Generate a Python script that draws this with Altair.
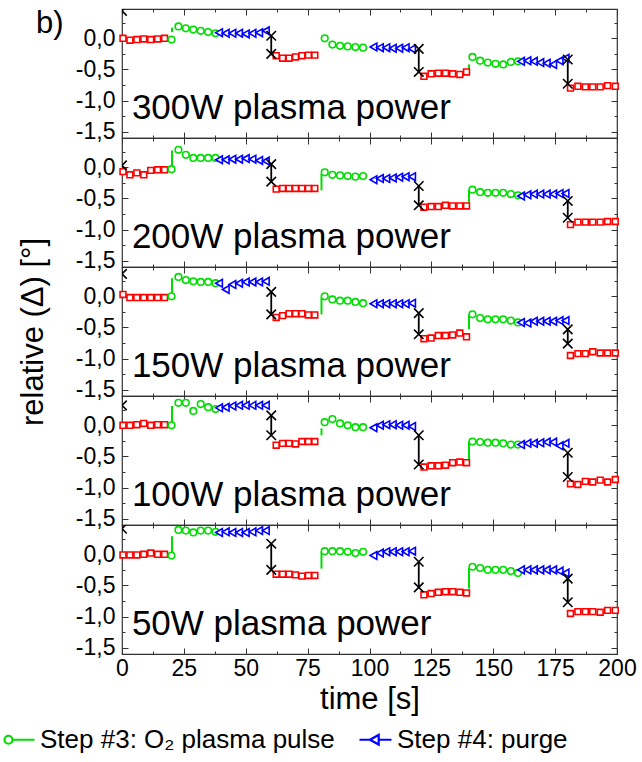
import altair as alt
import pandas as pd

FONT = "Liberation Sans"
RED, GREEN, BLUE, BLACK = "#ff0000", "#00dd00", "#0000ff", "#000000"
TICK = "#333333"

# ---------------- time grids (s) ----------------
t_red = [0.4, 3.2, 6.0, 8.8, 11.6, 14.4, 17.2,
         62.3, 64.9, 67.5, 70.1, 72.7, 75.3, 77.9,
         122.0, 124.9, 127.8, 130.7, 133.6, 136.5, 139.2,
         181.2, 184.2, 187.2, 190.2, 193.2, 196.2, 199.3]
t_green = [20.0, 22.8, 25.8, 28.8, 31.8, 34.8, 37.8,
           81.9, 85.0, 88.1, 91.2, 94.3, 97.4,
           141.6, 144.7, 147.8, 150.9, 154.0, 157.1, 160.0]
t_blue = [39.2, 41.9, 44.6, 47.3, 50.0, 52.7, 55.4, 58.1,
          101.6, 104.2, 106.8, 109.4, 112.0, 114.6, 117.2,
          161.2, 163.8, 166.4, 169.0, 171.6, 174.2, 176.8, 179.2]
t_x = [0.0, 60.3, 119.9, 180.1]
t_jump = [20.2, 80.6, 140.2]

# ---------------- 300 W ----------------
red_300 = [0.0, -0.03, -0.02, -0.01, -0.02, -0.01, 0.0,
           -0.28, -0.32, -0.32, -0.30, -0.28, -0.27, -0.27,
           -0.61, -0.57, -0.56, -0.56, -0.57, -0.58, -0.54,
           -0.80, -0.77, -0.78, -0.78, -0.78, -0.76, -0.77]
green_300 = [-0.02, 0.19, 0.16, 0.14, 0.12, 0.10, 0.08,
             0.0, -0.10, -0.12, -0.13, -0.14, -0.15,
             -0.30, -0.36, -0.39, -0.41, -0.42, -0.38, -0.37]
blue_300 = [0.09, 0.08, 0.08, 0.08, 0.07, 0.08, 0.09, 0.12,
            -0.14, -0.15, -0.15, -0.16, -0.16, -0.15, -0.17,
            -0.37, -0.36, -0.37, -0.39, -0.40, -0.42, -0.36, -0.32]
xhi_300 = [0.44, 0.04, -0.17, -0.34]
xlo_300 = [None, -0.25, -0.54, -0.73]
jlo_300 = [0.10, None, -0.49]
jhi_300 = [0.17, None, -0.42]

# ---------------- 200 W ----------------
red_200 = [-0.07, -0.12, -0.09, -0.12, -0.05, -0.04, -0.04,
           -0.35, -0.34, -0.34, -0.34, -0.34, -0.34, -0.34,
           -0.64, -0.63, -0.63, -0.61, -0.62, -0.62, -0.62,
           -0.92, -0.88, -0.88, -0.88, -0.88, -0.87, -0.87]
green_200 = [-0.03, 0.28, 0.20, 0.15, 0.15, 0.15, 0.15,
             -0.08, -0.12, -0.13, -0.14, -0.15, -0.14,
             -0.36, -0.40, -0.41, -0.41, -0.41, -0.43, -0.45]
blue_200 = [0.12, 0.12, 0.13, 0.13, 0.14, 0.13, 0.11, 0.10,
            -0.20, -0.18, -0.18, -0.17, -0.16, -0.15, -0.15,
            -0.46, -0.44, -0.43, -0.43, -0.43, -0.43, -0.42, -0.42]
xhi_200 = [0.03, 0.05, -0.30, -0.54]
xlo_200 = [None, -0.23, -0.61, -0.81]
jlo_200 = [-0.03, -0.37, -0.61]
jhi_200 = [0.27, -0.10, -0.36]

# ---------------- 150 W ----------------
red_150 = [0.03, -0.02, -0.02, -0.02, -0.02, -0.02, -0.02,
           -0.34, -0.31, -0.28, -0.28, -0.28, -0.30, -0.30,
           -0.68, -0.67, -0.63, -0.63, -0.62, -0.59, -0.65,
           -0.95, -0.92, -0.92, -0.89, -0.91, -0.91, -0.91]
green_150 = [0.0, 0.31, 0.26, 0.24, 0.23, 0.23, 0.21,
             0.0, -0.05, -0.07, -0.07, -0.09, -0.11,
             -0.29, -0.35, -0.37, -0.37, -0.37, -0.39, -0.42]
blue_150 = [0.21, 0.11, 0.19, 0.21, 0.23, 0.23, 0.23, 0.24,
            -0.12, -0.12, -0.12, -0.12, -0.12, -0.12, -0.11,
            -0.42, -0.43, -0.40, -0.40, -0.40, -0.40, -0.39, -0.39]
xhi_150 = [0.36, 0.07, -0.27, -0.53]
xlo_150 = [None, -0.29, -0.61, -0.76]
jlo_150 = [0.0, -0.29, -0.53]
jhi_150 = [0.29, -0.02, -0.29]

# ---------------- 100 W ----------------
red_100 = [0.0, 0.0, 0.01, 0.03, 0.0, 0.01, 0.01,
           -0.32, -0.29, -0.29, -0.30, -0.26, -0.26, -0.26,
           -0.67, -0.65, -0.65, -0.64, -0.60, -0.59, -0.60,
           -0.94, -0.95, -0.90, -0.91, -0.88, -0.91, -0.87]
green_100 = [0.0, 0.36, 0.36, 0.23, 0.34, 0.29, 0.26,
             0.05, 0.10, 0.03, 0.0, -0.03, -0.03,
             -0.26, -0.27, -0.28, -0.28, -0.29, -0.31, -0.31]
blue_100 = [0.28, 0.29, 0.31, 0.32, 0.32, 0.32, 0.32, 0.32,
            -0.04, 0.0, 0.01, 0.01, 0.0, 0.0, -0.02,
            -0.31, -0.29, -0.29, -0.28, -0.27, -0.27, -0.33, -0.29]
xhi_100 = [0.32, 0.16, -0.16, -0.44]
xlo_100 = [None, -0.16, -0.63, -0.83]
jlo_100 = [0.0, -0.16, -0.56]
jhi_100 = [0.31, -0.05, -0.26]

# ---------------- 50 W ----------------
red_50 = [-0.01, -0.01, -0.01, 0.0, 0.02, 0.0, 0.0,
          -0.32, -0.32, -0.32, -0.33, -0.35, -0.34, -0.34,
          -0.65, -0.63, -0.61, -0.60, -0.60, -0.61, -0.62,
          -0.95, -0.92, -0.92, -0.92, -0.93, -0.90, -0.90]
green_50 = [-0.02, 0.39, 0.38, 0.35, 0.38, 0.38, 0.36,
            0.05, 0.05, 0.05, 0.04, 0.02, 0.04,
            -0.20, -0.22, -0.25, -0.25, -0.25, -0.27, -0.30]
blue_50 = [0.35, 0.36, 0.35, 0.35, 0.35, 0.36, 0.38, 0.38,
           -0.02, 0.02, 0.04, 0.04, 0.04, 0.04, 0.05,
           -0.25, -0.25, -0.25, -0.25, -0.25, -0.25, -0.27, -0.30]
xhi_50 = [0.41, 0.17, -0.12, -0.39]
xlo_50 = [None, -0.25, -0.53, -0.77]
jlo_50 = [-0.02, -0.23, -0.55]
jhi_50 = [0.29, 0.04, -0.22]

panel_labels = ["300W plasma power", "200W plasma power", "150W plasma power",
                "100W plasma power", "50W plasma power"]
label_pos = [4.0, -1.29]

legend_labels = ["Step #3: O\u2082 plasma pulse", "Step #4: purge"]

reds = [red_300, red_200, red_150, red_100, red_50]
greens = [green_300, green_200, green_150, green_100, green_50]
blues = [blue_300, blue_200, blue_150, blue_100, blue_50]
xhis = [xhi_300, xhi_200, xhi_150, xhi_100, xhi_50]
xlos = [xlo_300, xlo_200, xlo_150, xlo_100, xlo_50]
jlos = [jlo_300, jlo_200, jlo_150, jlo_100, jlo_50]
jhis = [jhi_300, jhi_200, jhi_150, jhi_100, jhi_50]

X_MAJOR = [0, 25, 50, 75, 100, 125, 150, 175, 200]
X_MINOR = [12.5, 37.5, 62.5, 87.5, 112.5, 137.5, 162.5, 187.5]
Y_MAJOR = [-1.5, -1.0, -0.5, 0.0]
Y_MINOR = [-1.25, -0.75, -0.25, 0.25]

W, H = 495, 129
XDOM = [0, 200]
YDOM = [-1.6, 0.47]

X_PATH = "M-1,-1L1,1M-1,1L1,-1"
LEG_GREEN = "M-0.375,0L1,0M-0.375,0A0.25,0.25,0,1,1,-0.875,0A0.25,0.25,0,1,1,-0.375,0"
LEG_BLUE = "M-1,0L-0.35,0M0.2,0L1,0M-0.35,0L0.2,-0.3L0.2,0.3Z"

YLAB = "replace(replace(format(datum.value, '.1f'), '.', ','), '\u2212', '-')"


def xs(axis):
    return alt.X("t:Q", scale=alt.Scale(domain=XDOM, nice=False, zero=False), axis=axis)


def ys(axis, field="v:Q"):
    return alt.Y(field, scale=alt.Scale(domain=YDOM, nice=False, zero=False), axis=axis)


def make_panel(i):
    last = i == 4
    mid = i == 2
    red_df = pd.DataFrame({"t": t_red, "v": reds[i]})
    green_df = pd.DataFrame({"t": t_green, "v": greens[i]})
    blue_df = pd.DataFrame({"t": t_blue, "v": blues[i]})
    xpts = []
    xrule = []
    for t, hi, lo in zip(t_x, xhis[i], xlos[i]):
        xpts.append({"t": t, "v": hi})
        if lo is not None:
            xpts.append({"t": t, "v": lo})
            xrule.append({"t": t, "v": hi, "v2": lo})
    jump = [{"t": t, "v": lo, "v2": hi} for t, lo, hi in zip(t_jump, jlos[i], jhis[i])
            if lo is not None]

    ax_x_major = alt.Axis(orient="bottom", values=X_MAJOR, tickSize=6, offset=-6,
                          labels=last, labelFontSize=23, labelPadding=3, labelFlush=False,
                          title="time [s]" if last else None, titleFontSize=31,
                          titlePadding=4, titleFontWeight="normal")
    ax_y_major = alt.Axis(orient="left", values=Y_MAJOR, tickSize=6, offset=-6,
                          labelExpr=YLAB, labelFontSize=23, labelPadding=7,
                          title="relative (\u0394) [\u00b0]" if mid else None,
                          titleFontSize=31, titlePadding=26, titleFontWeight="normal")
    ax_x_top = alt.Axis(orient="top", values=X_MAJOR, tickSize=6, offset=-6, labels=False, title=None)
    ax_y_right = alt.Axis(orient="right", values=Y_MAJOR, tickSize=6, offset=-6, labels=False, title=None)
    ax_x_minb = alt.Axis(orient="bottom", values=X_MINOR, tickSize=3, offset=-3, labels=False, title=None)
    ax_y_minl = alt.Axis(orient="left", values=Y_MINOR, tickSize=3, offset=-3, labels=False, title=None)
    ax_x_mint = alt.Axis(orient="top", values=X_MINOR, tickSize=3, offset=-3, labels=False, title=None)
    ax_y_minr = alt.Axis(orient="right", values=Y_MINOR, tickSize=3, offset=-3, labels=False, title=None)

    layers = []
    layers.append(alt.Chart(pd.DataFrame(jump)).mark_rule(color=GREEN, strokeWidth=2).encode(
        x=xs(None), y=ys(None), y2="v2:Q"))
    layers.append(alt.Chart(pd.DataFrame(xrule)).mark_rule(color=BLACK, strokeWidth=1.8).encode(
        x=xs(None), y=ys(None), y2="v2:Q"))
    layers.append(alt.Chart(red_df).mark_point(shape="square", size=34, filled=True, fill="white",
                                               stroke=RED, strokeWidth=1.6, opacity=1).encode(
        x=xs(ax_x_major), y=ys(ax_y_major)))
    layers.append(alt.Chart(green_df).mark_point(shape="circle", size=44, filled=True, fill="white",
                                                 stroke=GREEN, strokeWidth=1.6, opacity=1).encode(
        x=xs(ax_x_top), y=ys(ax_y_right)))
    layers.append(alt.Chart(blue_df).mark_point(shape="triangle-left", size=60, filled=True, fill="white",
                                                stroke=BLUE, strokeWidth=1.6, opacity=1).encode(
        x=xs(ax_x_minb), y=ys(ax_y_minl)))
    layers.append(alt.Chart(pd.DataFrame(xpts)).mark_point(shape=X_PATH, size=90, filled=False,
                                                           stroke=BLACK, strokeWidth=1.6, opacity=1,
                                                           clip=True).encode(
        x=xs(ax_x_mint), y=ys(ax_y_minr)))
    layers.append(alt.Chart(pd.DataFrame({"t": [label_pos[0]], "v": [label_pos[1]],
                                          "s": [panel_labels[i]]})).mark_text(
        align="left", baseline="alphabetic", fontSize=35, font=FONT, color=BLACK).encode(
        x=xs(None), y=ys(None), text="s:N"))
    if i == 0:
        layers.append(alt.Chart(pd.DataFrame({"s": ["b)"]})).mark_text(
            align="left", baseline="top", fontSize=31, font=FONT, color=BLACK).encode(
            x=alt.value(-86), y=alt.value(0), text="s:N"))
    if last:
        leg = alt.Legend(orient="none", legendX=-121, legendY=713, direction="horizontal",
                         title=None, labelFontSize=26, labelFont=FONT, labelColor=BLACK,
                         symbolSize=1024, symbolStrokeWidth=2.2, columnPadding=20,
                         labelOffset=4, symbolFillColor="transparent")
        helper = pd.DataFrame({"step": legend_labels, "t": [None, None], "v": [None, None]})
        layers.append(alt.Chart(helper).mark_point(filled=False, strokeWidth=2.2, opacity=1).encode(
            x=xs(None), y=ys(None),
            color=alt.Color("step:N", scale=alt.Scale(domain=legend_labels, range=[GREEN, BLUE]), legend=leg),
            shape=alt.Shape("step:N", scale=alt.Scale(domain=legend_labels, range=[LEG_GREEN, LEG_BLUE]), legend=leg),
        ))
    return alt.layer(*layers).properties(width=W, height=H).resolve_axis(x="independent", y="independent")


chart = alt.vconcat(*[make_panel(i) for i in range(5)], spacing=0, bounds="flush").properties(
    padding={"left": 1, "top": 7, "right": 5, "bottom": 2}
).configure_view(stroke=TICK, strokeWidth=1.2).configure_axis(
    domain=False, grid=False, tickColor=TICK, tickWidth=1, labelFont=FONT, titleFont=FONT,
    labelColor=BLACK, titleColor=BLACK, labelOverlap=False
).configure_legend(labelLimit=400)

chart.save("out.html", embed_options={"renderer": "svg", "actions": False})
